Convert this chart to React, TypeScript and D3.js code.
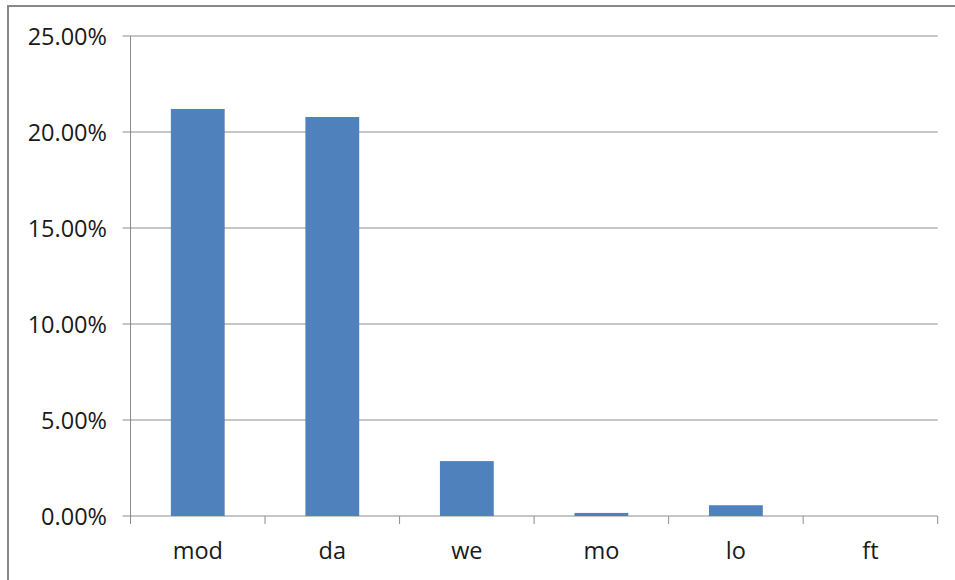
import React from "react";
import * as d3 from "d3";

const categories = ["mod", "da", "we", "mo", "lo", "ft"];
const values = [0.212, 0.2078, 0.0286, 0.0016, 0.0056, 0];
const yTicks = [0, 0.05, 0.1, 0.15, 0.2, 0.25];

const W = 955;
const H = 580;
const left = 130.5;
const right = 937.7;
const top = 36;
const bottom = 516;

export default function App() {
  const x = d3.scaleBand<string>().domain(categories).range([left, right]).padding(0);
  const y = d3.scaleLinear().domain([0, 0.25]).range([bottom, top]);
  const bw = x.bandwidth() * 0.4;
  const fmt = d3.format(".2%");
  const font = "'Open Sans', 'Liberation Sans', sans-serif";
  const edges = categories.map((c) => x(c) as number).concat([right]);
  return (
    <svg width={W} height={H} style={{ position: "absolute", left: 0, top: 0 }}>
      <rect x={0} y={0} width={W} height={H} fill="#fff" />
      <rect x={8} y={6} width={W + 20} height={H + 20} fill="none" stroke="#878787" strokeWidth={2} />
      {yTicks.map((t) => (
        <g key={t}>
          <line x1={left - 8} x2={right} y1={y(t)} y2={y(t)} stroke="#8c8c8c" strokeWidth={1} />
          <text x={107} y={y(t)} textAnchor="end" dominantBaseline="central" fontFamily={font} fontSize={23.5} fill="#1a1a1a">
            {fmt(t)}
          </text>
        </g>
      ))}
      <line x1={left} x2={left} y1={top} y2={bottom} stroke="#8c8c8c" strokeWidth={1} />
      {edges.map((e, i) => (
        <line key={i} x1={e} x2={e} y1={bottom} y2={bottom + 8} stroke="#8c8c8c" strokeWidth={1} />
      ))}
      {categories.map((c, i) => {
        const cx = (x(c) as number) + x.bandwidth() / 2;
        return (
          <g key={c}>
            {values[i] > 0 && (
              <rect x={cx - bw / 2} y={y(values[i])} width={bw} height={bottom - y(values[i])} fill="#4F81BD" />
            )}
            <text x={cx} y={559} textAnchor="middle" fontFamily={font} fontSize={23.5} fill="#1a1a1a">
              {c}
            </text>
          </g>
        );
      })}
    </svg>
  );
}
